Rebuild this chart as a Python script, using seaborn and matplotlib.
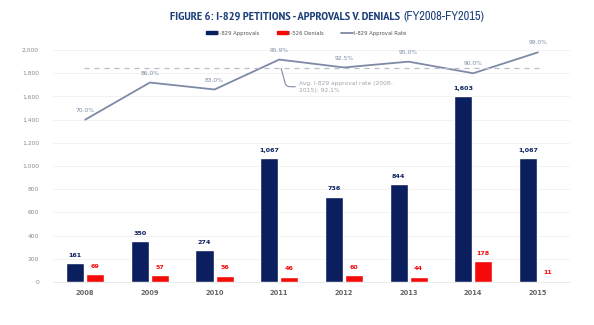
import numpy as np
import pandas as pd
import matplotlib
matplotlib.use("Agg")
import matplotlib.pyplot as plt
import matplotlib.patches as mpatches
import matplotlib.lines as mlines
from matplotlib import font_manager
from matplotlib.font_manager import FontProperties
import seaborn as sns

years = ["2008", "2009", "2010", "2011", "2012", "2013", "2014", "2015"]
approvals = [161, 350, 274, 1067, 736, 844, 1603, 1067]
denials = [69, 57, 56, 46, 60, 44, 178, 11]
approval_rate = [70.0, 86.0, 83.0, 95.9, 92.5, 95.0, 90.0, 99.0]
avg_rate = 92.1

NAVY = "#0b1f5e"
RED = "#f50a0a"
LINE = "#7d8aa5"
GRAY = "#8a8a8a"
TITLE = "#1c3f7a"

sns.set_theme(style="white")
plt.rcParams["font.family"] = ["DejaVu Sans"]


def narrow_font(weight):
    """Pick an installed condensed/narrow face, falling back to DejaVu Sans."""
    want_bold = weight == "bold"
    best = None
    for f in font_manager.fontManager.ttflist:
        name = f.name + " " + f.fname
        narrow = ("Condensed" in name or "Narrow" in name
                  or f.stretch in ("condensed", "semi-condensed",
                                   "extra-condensed", 600 - 100, 300))
        if not narrow:
            continue
        is_bold = (f.weight in ("bold", 700, "heavy", 800)
                   or "Bold" in f.fname)
        if is_bold != want_bold or "Oblique" in f.fname or "Italic" in f.fname:
            continue
        best = f.fname
        if "Narrow" in name:
            break
    if best:
        return FontProperties(fname=best)
    return FontProperties(family="DejaVu Sans", weight=weight)


df = pd.DataFrame({
    "year": years * 2,
    "value": approvals + denials,
    "series": ["I-829 Approvals"] * len(years) + ["I-526 Denials"] * len(years),
})

fig = plt.figure(figsize=(5.94, 3.25), dpi=100)
ax = fig.add_axes([0.089, 0.132, 0.871, 0.714])

sns.barplot(data=df, x="year", y="value", hue="series",
            palette=[NAVY, RED], width=0.62, gap=0.1, ax=ax,
            legend=False, saturation=1)

ax.set_ylim(0, 2000)
ax.set_xlim(-0.5, 7.5)
ax.set_yticks(range(0, 2001, 200))
ax.set_yticklabels([f"{v:,}" for v in range(0, 2001, 200)])
ax.tick_params(axis="y", labelsize=4.3, labelcolor=GRAY, length=0, pad=10)
ax.tick_params(axis="x", labelsize=4.8, labelcolor="#666666", length=0, pad=6)
for lab in ax.get_xticklabels():
    lab.set_fontweight("bold")
ax.set_xlabel("")
ax.set_ylabel("")
ax.yaxis.grid(True, color="#f0f0f0", linewidth=0.6)
ax.set_axisbelow(True)
for s in ["top", "right", "left"]:
    ax.spines[s].set_visible(False)
ax.spines["bottom"].set_color("#e6e6e6")
ax.spines["bottom"].set_linewidth(0.6)

# value labels above bars
for cont, color in zip(ax.containers, [NAVY, RED]):
    ax.bar_label(cont, labels=[f"{int(b.get_height()):,}" for b in cont],
                 padding=4, fontsize=4.6, fontweight="bold", color=color)

# approval rate on a secondary scale (0-100%)
ax2 = ax.twinx()
ax2.set_ylim(0, 100)
sns.lineplot(x=np.arange(len(years)), y=approval_rate, ax=ax2,
             color=LINE, linewidth=1.3, legend=False)
ax2.axhline(avg_rate, color="#b8bcc6", linewidth=0.9, linestyle=(0, (4, 4)),
            xmin=0.06, xmax=0.94)
ax2.set_yticks([])
for s in ax2.spines.values():
    s.set_visible(False)
for i, r in enumerate(approval_rate):
    ax2.annotate(f"{r:.1f}%", (i, r), xytext=(0, 5), textcoords="offset points",
                 ha="center", va="bottom", fontsize=4.3, color=LINE,
                 annotation_clip=False)

ax2.annotate(f"Avg. I-829 approval rate (2008-\n2015): {avg_rate}%",
             xy=(3.03, avg_rate), xytext=(3.3, 84.2),
             fontsize=4.3, color="#a0a4ad", va="center", ha="left",
             linespacing=1.6,
             arrowprops=dict(arrowstyle="-", color=LINE, linewidth=0.8,
                             shrinkA=0, shrinkB=0,
                             connectionstyle="angle,angleA=0,angleB=-75,rad=4"))

# legend
handles = [
    mpatches.Patch(color=NAVY, label="I-829 Approvals"),
    mpatches.Patch(color=RED, label="I-526 Denials"),
    mlines.Line2D([], [], color=LINE, linewidth=1.3, label="I-829 Approval Rate"),
]
fig.legend(handles=handles, loc="center", bbox_to_anchor=(0.515, 0.898),
           ncol=3, frameon=False, fontsize=3.8, handlelength=2.2,
           handleheight=0.6, handletextpad=0.2, columnspacing=3.2,
           labelcolor="#555555")

# title: bold part followed by a regular part, sized to its span
fig.canvas.draw()
renderer = fig.canvas.get_renderer()
fp_bold = narrow_font("bold")
fp_reg = narrow_font("normal")
x0_px, bold_span_px = 170, 230
t1 = fig.text(x0_px / 594, 0.948, "FIGURE 6: I-829 PETITIONS - APPROVALS V. DENIALS",
              fontproperties=fp_bold, fontsize=12, color=TITLE,
              ha="left", va="center")
w = t1.get_window_extent(renderer=renderer).width
size = min(12.5, 12 * bold_span_px / w)
t1.set_fontsize(size)
bb = t1.get_window_extent(renderer=renderer)
fig.text((bb.x1 + 3) / fig.bbox.width, 0.948, "(FY2008-FY2015)",
         fontproperties=fp_reg, fontsize=size, color=TITLE,
         ha="left", va="center")

fig.savefig("out.png", dpi=100)
